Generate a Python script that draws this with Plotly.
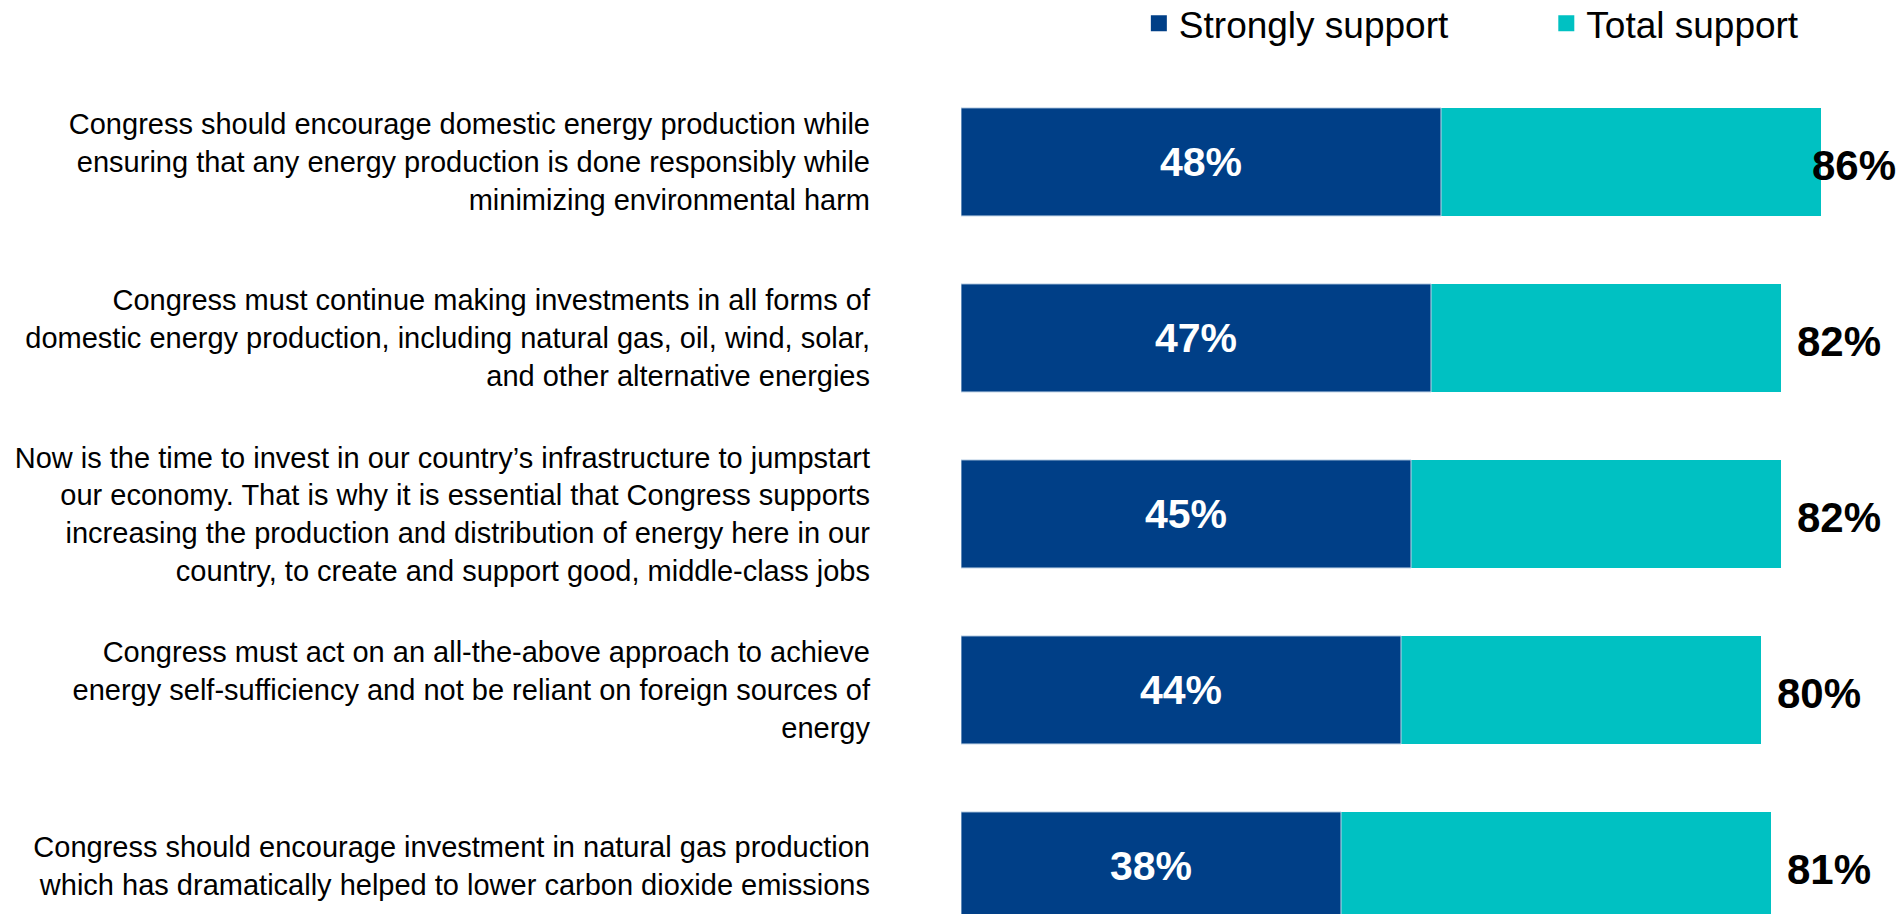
import plotly.graph_objects as go

# Survey statements (top to bottom) and their support levels, in percent
statements = [
    "Congress should encourage domestic energy production while<br>ensuring that any energy production is done responsibly while<br>minimizing environmental harm",
    "Congress must continue making investments in all forms of<br>domestic energy production, including natural gas, oil, wind, solar,<br>and other alternative energies",
    "Now is the time to invest in our country\u2019s infrastructure to jumpstart<br>our economy. That is why it is essential that Congress supports<br>increasing the production and distribution of energy here in our<br>country, to create and support good, middle-class jobs",
    "Congress must act on an all-the-above approach to achieve<br>energy self-sufficiency and not be reliant on foreign sources of<br>energy",
    "Congress should encourage investment in natural gas production<br>which has dramatically helped to lower carbon dioxide emissions",
]
strongly_support = [48, 47, 45, 44, 38]
total_support = [86, 82, 82, 80, 81]

DARK = "#003F87"
TEAL = "#00C1C2"
FONT = "Liberation Sans, Arial, sans-serif"

W, H = 1902, 914
LEFT = 961
X_MAX = 94.1
BAR_W = 0.614
positions = list(range(len(statements)))

fig = go.Figure()

# Total support drawn full length underneath
fig.add_trace(go.Bar(
    y=positions, x=total_support, orientation="h", name="Total support",
    marker=dict(color=TEAL, line=dict(width=0)), width=BAR_W,
    showlegend=False, hoverinfo="x",
))

# Strongly support overlaid on top, with its value inside
fig.add_trace(go.Bar(
    y=positions, x=strongly_support, orientation="h", name="Strongly support",
    marker=dict(color=DARK, line=dict(width=1, color="#BFD3E6")), width=BAR_W,
    text=[f"{v}%" for v in strongly_support], textposition="inside",
    insidetextanchor="middle", constraintext="none",
    textfont=dict(family=FONT, size=41, color="white", weight="bold"),
    showlegend=False, hoverinfo="x",
))

# Legend entries with larger square swatches, one legend box each
for name, color, legend_id in [("Strongly support", DARK, "legend"),
                               ("Total support", TEAL, "legend2")]:
    fig.add_trace(go.Scatter(
        x=[None], y=[None], mode="markers", name=name,
        marker=dict(symbol="square", size=16, color=color),
        legend=legend_id, showlegend=True,
    ))

# Total support values to the right of each bar, kept inside the figure
annotations = []
for pos, tot in zip(positions, total_support):
    label = f"<b>{tot}%</b>"
    lab_font = dict(family=FONT, size=42, color="black")
    if tot + 9.5 > X_MAX:
        annotations.append(dict(x=1, xref="paper", y=pos, yref="y", text=label,
                                xanchor="right", xshift=-4, yshift=-4,
                                showarrow=False, font=lab_font))
    else:
        annotations.append(dict(x=tot, xref="x", y=pos, yref="y", text=label,
                                xanchor="left", xshift=14, yshift=-4,
                                showarrow=False, font=lab_font))

legend_common = dict(
    orientation="h", yanchor="top", y=1.008, xanchor="left",
    font=dict(family=FONT, size=37, color="black"),
    bgcolor="rgba(0,0,0,0)", itemsizing="trace",
)

fig.update_layout(
    width=W, height=H,
    margin=dict(l=LEFT, r=0, t=0, b=0, autoexpand=False),
    paper_bgcolor="white", plot_bgcolor="white",
    barmode="overlay",
    font=dict(family=FONT, color="black"),
    showlegend=True,
    legend=dict(x=0.189, **legend_common),
    legend2=dict(x=0.622, **legend_common),
    annotations=annotations,
    xaxis=dict(range=[0, X_MAX], visible=False, fixedrange=True),
    yaxis=dict(
        range=[4.273, -0.920], tickvals=positions, ticktext=statements,
        tickfont=dict(family=FONT, size=29, color="black"),
        ticklabelstandoff=90, showgrid=False, zeroline=False,
        showline=False, ticks="", fixedrange=True,
    ),
)

fig.write_html("out.html")
